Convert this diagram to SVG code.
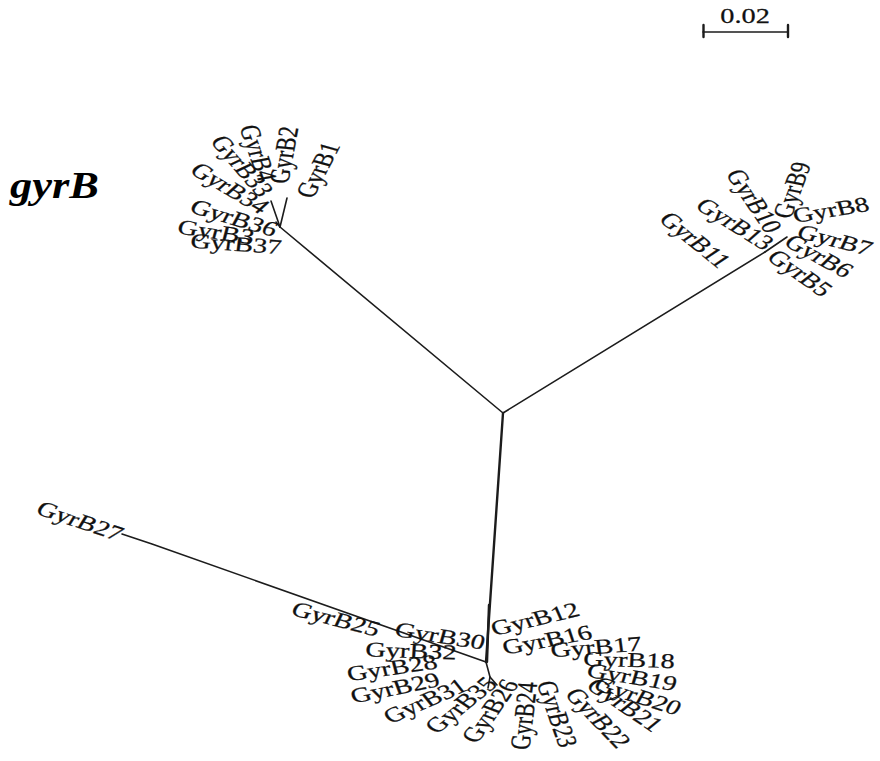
<svg xmlns="http://www.w3.org/2000/svg" width="880" height="761" viewBox="0 0 880 761">
  <style>
    .br { stroke: #1c1c1c; stroke-width: 1.6; fill: none; stroke-linecap: round; stroke-linejoin: round; }
    .thick { stroke-width: 2.4; }
    .lbl { font-family: "Liberation Serif", "Times New Roman", serif; font-size: 21px; fill: #111; stroke: #111; stroke-width: 0.25; text-anchor: middle; }
    .title { font-family: "Liberation Serif", "Times New Roman", serif; font-size: 38px; font-weight: bold; font-style: italic; fill: #000; }
  </style>
  <rect width="880" height="761" fill="#fff"/>

  <!-- scale bar -->
  <g id="scale-bar">
    <line class="br" x1="703" y1="32" x2="788" y2="32"/>
    <line class="br thick" x1="703.5" y1="25" x2="703.5" y2="37"/>
    <line class="br thick" x1="788" y1="25" x2="788" y2="37"/>
    <g transform="translate(745,23) scale(1.35,1)"><text class="lbl">0.02</text></g>
  </g>

  <!-- gene name -->
  <g id="title" transform="translate(10,198) scale(1.17,1)"><text class="title">gyrB</text></g>

  <!-- branches -->
  <g id="edges">
    <line class="br" x1="503" y1="413" x2="280" y2="227"/>
    <line class="br" x1="280" y1="227" x2="287" y2="198"/>
    <line class="br" x1="280" y1="227" x2="271" y2="201"/>
    <line class="br" x1="280" y1="227" x2="276" y2="222"/>
    <line class="br" x1="503" y1="413" x2="765" y2="252"/>
    <line class="br" x1="765" y1="252" x2="787" y2="237"/>
    <line class="br thick" x1="503" y1="413" x2="486" y2="662"/>
    <line class="br thick" x1="489" y1="605" x2="487" y2="662"/>
    <polyline class="br" points="486,662 152,544 122,534"/>
    <polyline class="br" points="486,662 490,677 497,685"/>
    <line class="br" x1="490" y1="677" x2="488" y2="688"/>
  </g>

  <!-- upper-left clade -->
  <g id="GyrB1" transform="translate(318,170) scale(1.35,1) rotate(-69.2)"><text class="lbl" y="6.9">GyrB1</text></g>
  <g id="GyrB2" transform="translate(284,155) scale(1.35,1) rotate(-82.1)"><text class="lbl" y="6.9">GyrB2</text></g>
  <g id="GyrB4" transform="translate(258,153) scale(1.35,1) rotate(75.4)"><text class="lbl" y="6.9">GyrB4</text></g>
  <g id="GyrB33" transform="translate(242,166) scale(1.35,1) rotate(57.3)"><text class="lbl" y="6.9">GyrB33</text></g>
  <g id="GyrB34" transform="translate(230,188) scale(1.35,1) rotate(38.9)"><text class="lbl" y="6.9">GyrB34</text></g>
  <g id="GyrB36" transform="translate(234,218) scale(1.35,1) rotate(21.9)"><text class="lbl" y="6.9">GyrB36</text></g>
  <g id="GyrB3" transform="translate(216,232) scale(1.35,1) rotate(11.1)"><text class="lbl" y="6.9">GyrB3</text></g>
  <g id="GyrB37" transform="translate(236,244) scale(1.35,1) rotate(5.6)"><text class="lbl" y="6.9">GyrB37</text></g>

  <!-- upper-right clade -->
  <g id="GyrB9" transform="translate(792,190) scale(1.35,1) rotate(-74.7)"><text class="lbl" y="6.9">GyrB9</text></g>
  <g id="GyrB8" transform="translate(831,210) scale(1.35,1) rotate(-12.5)"><text class="lbl" y="6.9">GyrB8</text></g>
  <g id="GyrB10" transform="translate(754,201) scale(1.35,1) rotate(63.4)"><text class="lbl" y="6.9">GyrB10</text></g>
  <g id="GyrB13" transform="translate(735,224) scale(1.35,1) rotate(40.1)"><text class="lbl" y="6.9">GyrB13</text></g>
  <g id="GyrB11" transform="translate(695,240) scale(1.35,1) rotate(47.6)"><text class="lbl" y="6.9">GyrB11</text></g>
  <g id="GyrB7" transform="translate(835,240) scale(1.35,1) rotate(19.2)"><text class="lbl" y="6.9">GyrB7</text></g>
  <g id="GyrB6" transform="translate(819,256) scale(1.35,1) rotate(36.7)"><text class="lbl" y="6.9">GyrB6</text></g>
  <g id="GyrB5" transform="translate(800,273) scale(1.35,1) rotate(43.4)"><text class="lbl" y="6.9">GyrB5</text></g>

  <!-- lower clade -->
  <g id="GyrB27" transform="translate(80,521) scale(1.35,1) rotate(24.5)"><text class="lbl" y="6.9">GyrB27</text></g>
  <g id="GyrB25" transform="translate(336,619) scale(1.35,1) rotate(19.2)"><text class="lbl" y="6.9">GyrB25</text></g>
  <g id="GyrB30" transform="translate(440,636) scale(1.35,1) rotate(11.8)"><text class="lbl" y="6.9">GyrB30</text></g>
  <g id="GyrB32" transform="translate(411,651) scale(1.35,1) rotate(2.8)"><text class="lbl" y="6.9">GyrB32</text></g>
  <g id="GyrB28" transform="translate(392,668) scale(1.35,1) rotate(-11.1)"><text class="lbl" y="6.9">GyrB28</text></g>
  <g id="GyrB29" transform="translate(395,688) scale(1.35,1) rotate(-15.2)"><text class="lbl" y="6.9">GyrB29</text></g>
  <g id="GyrB31" transform="translate(425,701) scale(1.35,1) rotate(-30.7)"><text class="lbl" y="6.9">GyrB31</text></g>
  <g id="GyrB35" transform="translate(461,705) scale(1.35,1) rotate(-47.6)"><text class="lbl" y="6.9">GyrB35</text></g>
  <g id="GyrB26" transform="translate(490,711) scale(1.35,1) rotate(-62.6)"><text class="lbl" y="6.9">GyrB26</text></g>
  <g id="GyrB24" transform="translate(524,716) scale(1.35,1) rotate(-85)"><text class="lbl" y="6.9">GyrB24</text></g>
  <g id="GyrB23" transform="translate(557,714) scale(1.35,1) rotate(75.4)"><text class="lbl" y="6.9">GyrB23</text></g>
  <g id="GyrB22" transform="translate(598,718) scale(1.35,1) rotate(54.5)"><text class="lbl" y="6.9">GyrB22</text></g>
  <g id="GyrB21" transform="translate(625,705) scale(1.35,1) rotate(42.3)"><text class="lbl" y="6.9">GyrB21</text></g>
  <g id="GyrB20" transform="translate(638,696) scale(1.35,1) rotate(23.2)"><text class="lbl" y="6.9">GyrB20</text></g>
  <g id="GyrB19" transform="translate(632,677) scale(1.35,1) rotate(12.5)"><text class="lbl" y="6.9">GyrB19</text></g>
  <g id="GyrB18" transform="translate(629,660) scale(1.35,1) rotate(2.1)"><text class="lbl" y="6.9">GyrB18</text></g>
  <g id="GyrB17" transform="translate(596,647) scale(1.35,1) rotate(-5.6)"><text class="lbl" y="6.9">GyrB17</text></g>
  <g id="GyrB16" transform="translate(547,640) scale(1.35,1) rotate(-13.9)"><text class="lbl" y="6.9">GyrB16</text></g>
  <g id="GyrB12" transform="translate(535,619) scale(1.35,1) rotate(-17.9)"><text class="lbl" y="6.9">GyrB12</text></g>
</svg>
